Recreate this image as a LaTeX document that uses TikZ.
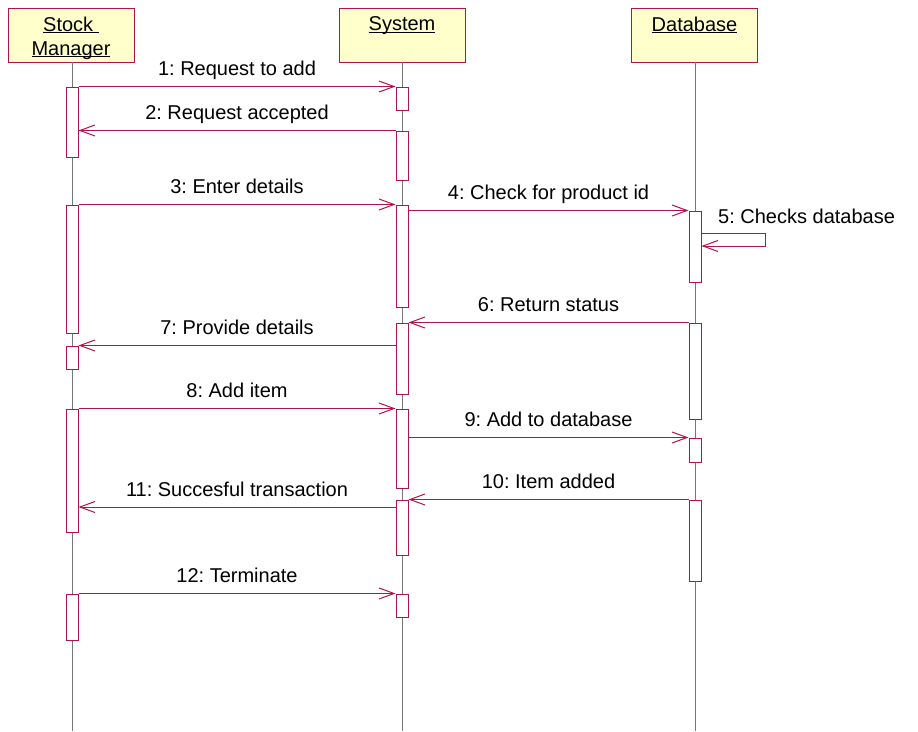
\documentclass[tikz,border=0pt]{standalone}
\usepackage{fontspec}
\setmainfont{Liberation Sans}
\usepackage{tikz}
\usetikzlibrary{arrows.meta,positioning}
\definecolor{umlred}{RGB}{172,22,72}
\definecolor{umlfill}{RGB}{255,255,204}
\definecolor{lifegray}{RGB}{120,120,120}
\newcommand{\objname}[1]{\underline{\raisebox{0pt}[\height][0pt]{#1}}}
\frenchspacing
\tikzstyle{object}=[draw=umlred,fill=umlfill,line width=1pt,minimum width=126pt,minimum height=54pt,inner sep=0pt]
\tikzstyle{objtext}=[align=center,inner sep=0pt]
\tikzstyle{lifeline}=[draw=lifegray,line width=0.8pt]
\tikzstyle{activation}=[draw=umlred,fill=white,line width=1pt,minimum width=12pt,inner sep=0pt]
\tikzstyle{msg}=[draw=umlred,line width=1pt,-{Straight Barb[length=15pt,width=11pt]}]
\tikzstyle{msglabel}=[anchor=base,yshift=11pt,inner sep=0pt]

\begin{document}
\begin{tikzpicture}[x=1pt,y=-1pt,font=\fontsize{20}{24}\selectfont]
	\useasboundingbox (0,0) rectangle (918,731);
	\coordinate (bottom) at (0,731);
	\node [object] (sm) at (71,35) {};
	\node [object] (sys) at (402,35) {};
	\node [object] (db) at (694.5,35) {};
	\node [objtext,below=9pt of sm.north] (smname) {\objname{Stock }\\\objname{Manager}};
	\node [objtext,below=9pt of sys.north] (sysname) {\objname{System}};
	\node [objtext,below=9pt of db.north] (dbname) {\objname{Database}};
	\coordinate (smline) at (72,62);
	\coordinate (sysline) at (402,62);
	\coordinate (dbline) at (695,62);
	\draw [lifeline] (smline) -- (smline |- bottom);
	\draw [lifeline] (sysline) -- (sysline |- bottom);
	\draw [lifeline] (dbline) -- (dbline |- bottom);
	\node [activation,minimum height=70pt] (a1) at (72,122) {};
	\node [activation,minimum height=128pt] (a2) at (72,269) {};
	\node [activation,minimum height=23pt] (a3) at (72,357.5) {};
	\node [activation,minimum height=123pt] (a4) at (72,470.5) {};
	\node [activation,minimum height=46pt] (a5) at (72,617) {};
	\node [activation,minimum height=23pt] (s1) at (402,98.5) {};
	\node [activation,minimum height=49pt] (s2) at (402,155.5) {};
	\node [activation,minimum height=102pt] (s3) at (402,256) {};
	\node [activation,minimum height=71pt] (s4) at (402,358.5) {};
	\node [activation,minimum height=79pt] (s5) at (402,448.5) {};
	\node [activation,minimum height=55pt] (s6) at (402,527.5) {};
	\node [activation,minimum height=23pt] (s7) at (402,605.5) {};
	\node [activation,minimum height=71pt] (d1) at (695,246.5) {};
	\node [activation,minimum height=96pt] (d2) at (695,371) {};
	\node [activation,minimum height=24pt] (d3) at (695,450) {};
	\node [activation,minimum height=81pt] (d4) at (695,540.5) {};
	\coordinate (m5a) at (765,233);
	\coordinate (m5b) at (765,246);
	\coordinate (m11) at (0,507);
	\draw [msg] (a1.north east) -- node [msglabel] (l1) {1: Request to add} (s1.north west);
	\draw [msg] (s2.north west) -- node [msglabel] (l2) {2: Request accepted} (s2.north west -| a1.east);
	\draw [msg] (a2.north east) -- node [msglabel] (l3) {3: Enter details} (s3.north west);
	\draw [msg] (s3.east |- d1.north) -- node [msglabel] (l4) {4: Check for product id} (d1.north west);
	\draw [msg] (d1.east |- m5a) -- (m5a) -- (m5b) -- (d1.east |- m5b);
	\node [anchor=base west,inner sep=0pt] (l5) at (718,223) {5: Checks database};
	\draw [msg] (d2.north west) -- node [msglabel] (l6) {6: Return status} (s4.north east);
	\draw [msg] (s4.west |- a3.north) -- node [msglabel] (l7) {7: Provide details} (a3.north east);
	\draw [msg] (a4.north east) -- node [msglabel] (l8) {8: Add item} (s5.north west);
	\draw [msg] (s5.east |- d3.north) -- node [msglabel] (l9) {9: Add to database} (d3.north west);
	\draw [msg] (d4.north west) -- node [msglabel] (l10) {10: Item added} (s6.north east);
	\draw [msg] (s6.west |- m11) -- node [msglabel] (l11) {11: Succesful transaction} (a4.east |- m11);
	\draw [msg] (a5.north east) -- node [msglabel] (l12) {12: Terminate} (s7.north west);
\end{tikzpicture}
\end{document}
